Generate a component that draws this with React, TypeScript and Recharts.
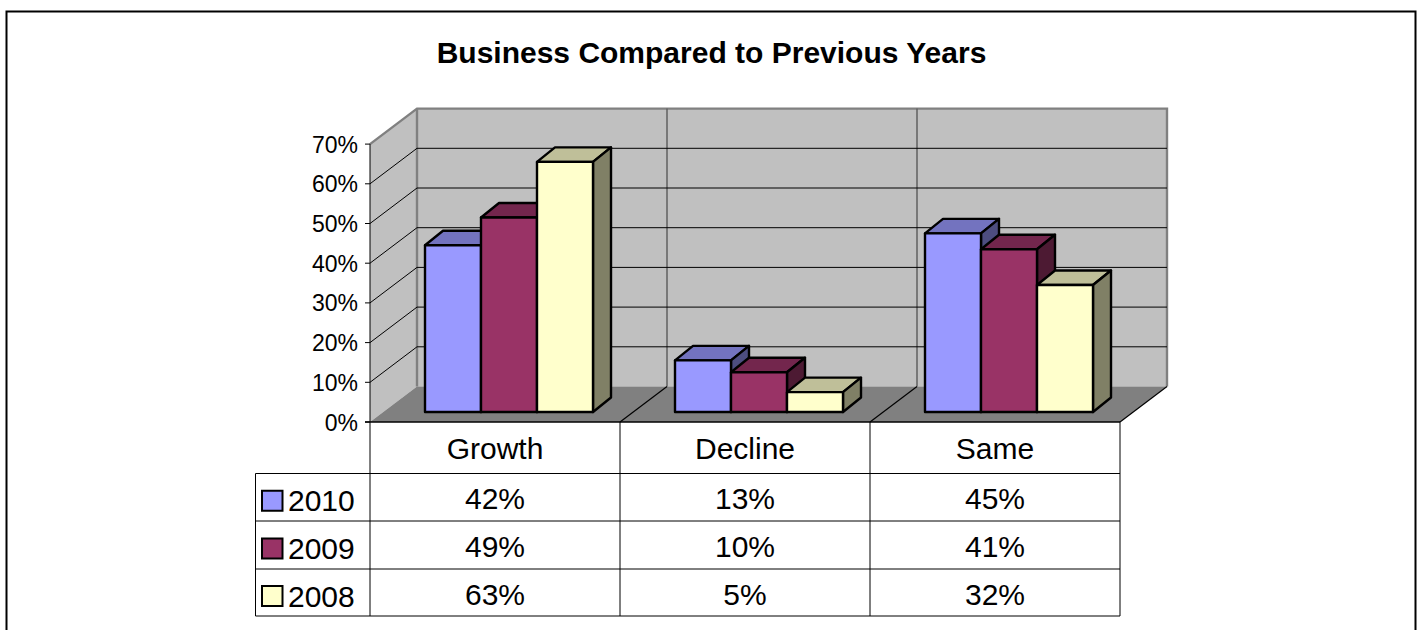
import React from "react";
import { BarChart, Bar, XAxis, YAxis, CartesianGrid } from "recharts";

const categories = ["Growth", "Decline", "Same"];
const seriesNames = ["2010", "2009", "2008"];
const values2010 = [42, 13, 45];
const values2009 = [49, 10, 41];
const values2008 = [63, 5, 32];
const yTicks = [0, 10, 20, 30, 40, 50, 60, 70];

const FRONT = ["#9999ff", "#993366", "#ffffcc"];
const TOP = ["#7373bf", "#73264d", "#bfbf99"];
const SIDE = ["#4d4d80", "#4d1a33", "#808066"];

const FONT = "'Liberation Sans', Arial, sans-serif";

// where the 3d box sits on the page
const LEFT = 370;
const RIGHT = 1120;
const FLOOR = 422;
const BACK_DX = 47;
const BACK_DY = 35.5;
// bars stand part way into the box
const BAR_DX = 14;
const BAR_DY = 10;
const PX_PER_PCT = 3.97;
const BAND = 250;
const TOP_Y = FLOOR - 70 * PX_PER_PCT;
const ROWS = [422, 473.5, 521, 569, 616];
const TABLE_LEFT = 255.5;

const data = categories.map((name, i) => ({
  name,
  y2010: values2010[i],
  y2009: values2009[i],
  y2008: values2008[i],
}));
const seriesValues = [values2010, values2009, values2008];

const Box3D = (props: any) => {
  const { x, y, width, height, idx } = props;
  const d = 18;
  const e = 14.5;
  return (
    <g stroke="#000" strokeWidth={2.4} strokeLinejoin="round">
      <polygon points={`${x},${y} ${x + d},${y - e} ${x + width + d},${y - e} ${x + width},${y}`} fill={TOP[idx]} />
      <polygon points={`${x + width},${y} ${x + width + d},${y - e} ${x + width + d},${y + height - e} ${x + width},${y + height}`} fill={SIDE[idx]} />
      <rect x={x} y={y} width={width} height={height} fill={FRONT[idx]} />
    </g>
  );
};

const GridLine = (props: any) => {
  const { y1 } = props;
  // top and bottom of the wall are the box edges
  if (Math.abs(y1 - (TOP_Y - BAR_DY)) < 1 || Math.abs(y1 - (FLOOR - BAR_DY)) < 1) return <g />;
  const fy = y1 + BAR_DY;
  return (
    <polyline
      points={`${LEFT},${fy} ${LEFT + BACK_DX},${fy - BACK_DY} ${RIGHT + BACK_DX},${fy - BACK_DY}`}
      fill="none"
      stroke="#000"
      strokeWidth={1}
    />
  );
};

const YTick = (props: any) => {
  const { y, payload } = props;
  const fy = y + BAR_DY;
  return (
    <g>
      <line x1={LEFT - 5} x2={LEFT} y1={fy} y2={fy} stroke="#000" strokeWidth={1} />
      <text x={LEFT - 12} y={fy + 8.5} textAnchor="end" fontSize={23} fontFamily={FONT} fill="#000">
        {payload.value}%
      </text>
    </g>
  );
};

const XTick = (props: any) => {
  const { x, payload } = props;
  return (
    <text x={x - BAR_DX} y={FLOOR + 37} textAnchor="middle" fontSize={30} fontFamily={FONT} fill="#000">
      {payload.value}
    </text>
  );
};

const Backdrop = () => {
  const bx = LEFT + BACK_DX;
  const by = FLOOR - BACK_DY;
  const wallTop = FLOOR - 70 * PX_PER_PCT;
  return (
    <g>
      <path d="M6.5 640 V11.5 H1415.5 V640" fill="none" stroke="#000" strokeWidth={2} />
      <polygon points={`${LEFT},${wallTop} ${bx},${wallTop - BACK_DY} ${bx},${by} ${LEFT},${FLOOR}`} fill="#c0c0c0" />
      <rect x={bx} y={wallTop - BACK_DY} width={RIGHT - LEFT} height={by - wallTop + BACK_DY} fill="#c0c0c0" />
      <polygon points={`${LEFT},${FLOOR} ${bx},${by} ${RIGHT + BACK_DX},${by} ${RIGHT},${FLOOR}`} fill="#808080" />
      <path
        d={`M${LEFT} ${wallTop} L${bx} ${wallTop - BACK_DY} H${RIGHT + BACK_DX} V${by} M${bx} ${wallTop - BACK_DY} V${by}`}
        fill="none"
        stroke="#808080"
        strokeWidth={2.4}
      />
      {[1, 2].map((i) => (
        <line key={i} x1={bx + i * BAND} x2={bx + i * BAND} y1={wallTop - BACK_DY} y2={by} stroke="#606060" strokeWidth={1.5} />
      ))}
      {[1, 2, 3].map((i) => (
        <line key={i} x1={LEFT + i * BAND} x2={bx + i * BAND} y1={FLOOR} y2={by} stroke="#000" strokeWidth={1.2} />
      ))}
      <line x1={LEFT} x2={LEFT} y1={wallTop} y2={FLOOR} stroke="#000" strokeWidth={1} />
    </g>
  );
};

const DataTable = () => (
  <g fontFamily={FONT} fontSize={30} fill="#000">
    {ROWS.map((y, i) => (
      <line key={y} x1={i === 0 ? LEFT - 5 : TABLE_LEFT} x2={RIGHT} y1={y} y2={y} stroke="#000" strokeWidth={i === 0 ? 1.5 : 1} />
    ))}
    {[0, 1, 2, 3].map((i) => (
      <line key={i} x1={LEFT + i * BAND} x2={LEFT + i * BAND} y1={FLOOR} y2={ROWS[4]} stroke="#000" strokeWidth={1} />
    ))}
    <line x1={TABLE_LEFT} x2={TABLE_LEFT} y1={ROWS[1]} y2={ROWS[4]} stroke="#000" strokeWidth={1} />
    {seriesNames.map((name, r) => {
      const mid = (ROWS[r + 1] + ROWS[r + 2]) / 2;
      return (
        <g key={name}>
          <rect x={262} y={mid - 6.5} width={20.5} height={20} fill={FRONT[r]} stroke="#000" strokeWidth={2} />
          <text x={288} y={mid + 14}>{name}</text>
          {seriesValues[r].map((v, c) => (
            <text key={c} x={LEFT + (c + 0.5) * BAND} y={mid + 12} textAnchor="middle">{v}%</text>
          ))}
        </g>
      );
    })}
  </g>
);

export default function App() {
  return (
    <div style={{ position: "absolute", left: 0, top: 0 }}>
      <BarChart
        width={1419}
        height={630}
        data={data}
        barCategoryGap={41}
        barGap={0}
        margin={{ top: TOP_Y - BAR_DY, left: LEFT + BAR_DX - 1, right: 1419 - RIGHT - BAR_DX, bottom: 630 - FLOOR + BAR_DY - 1 }}
      >
        <Backdrop />
        <DataTable />
        <text x={711.5} y={63} textAnchor="middle" fontSize={30} fontWeight="bold" fontFamily={FONT} fill="#000">
          Business Compared to Previous Years
        </text>
        <CartesianGrid vertical={false} horizontal={GridLine} stroke="#000" zIndex={1} />
        <XAxis dataKey="name" height={1} axisLine={false} tickLine={false} tick={XTick} interval={0} />
        <YAxis width={1} domain={[0, 70]} ticks={yTicks} axisLine={false} tickLine={false} tick={YTick} interval={0} />
        <Bar dataKey="y2010" name="2010" barSize={56} isAnimationActive={false} shape={(p: any) => <Box3D {...p} idx={0} />} />
        <Bar dataKey="y2009" name="2009" barSize={56} isAnimationActive={false} shape={(p: any) => <Box3D {...p} idx={1} />} />
        <Bar dataKey="y2008" name="2008" barSize={56} isAnimationActive={false} shape={(p: any) => <Box3D {...p} idx={2} />} />
      </BarChart>
    </div>
  );
}
